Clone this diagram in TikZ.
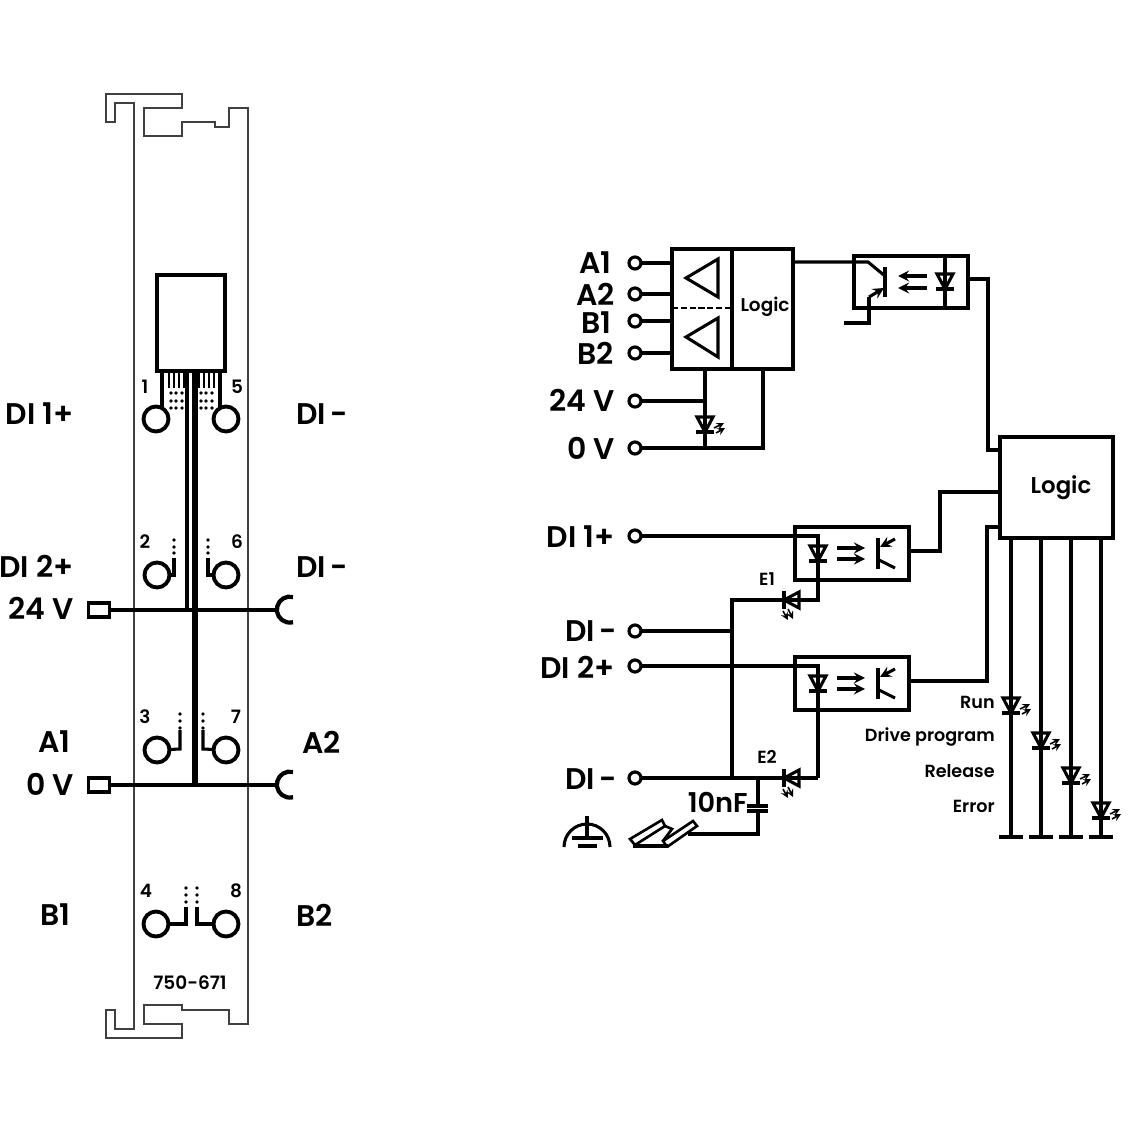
\documentclass[tikz,border=0pt]{standalone}
\usepackage{fontspec}
\setmainfont{Poppins SemiBold}
\usetikzlibrary{arrows, positioning}
\definecolor{panelgray}{gray}{0.25}
\tikzstyle{wire} = [line width=1.75pt, black]
\tikzstyle{rail} = [line width=2.4pt, black]
\tikzstyle{thin_wire} = [line width=1.5pt, black]
\tikzstyle{outline} = [line width=1pt, panelgray]
\tikzstyle{block} = [rectangle, draw=black, line width=1.75pt, fill=none, inner sep=0pt, outer sep=0pt, anchor=north west]
\tikzstyle{pad} = [circle, draw=black, line width=2.2pt, minimum size=0.5cm, inner sep=0pt, outer sep=0pt]
\tikzstyle{plug} = [rectangle, draw=black, line width=2.2pt, minimum width=0.42cm, minimum height=0.28cm, inner sep=0pt, outer sep=0pt]
\tikzstyle{terminal} = [circle, draw=black, line width=1.8pt, minimum size=0.24cm, inner sep=0pt, outer sep=0pt]
\tikzstyle{big_label} = [inner sep=0pt, font=\fontsize{17}{18}\selectfont]
\tikzstyle{pin_label} = [inner sep=0pt, font=\fontsize{10.5}{12}\selectfont]
\tikzstyle{small_label} = [inner sep=0pt, font=\fontsize{10}{12}\selectfont]
\tikzstyle{logic_label} = [inner sep=0pt, font=\fontsize{10.5}{14}\selectfont]
\tikzstyle{light_arrow} = [line width=1.75pt, black, ->, >=stealth]
\tikzstyle{ray} = [line width=0.9pt, black, ->, >=stealth]

% diode with its tip at (#1,#2), pointing down before the rotation #3
\newcommand{\diode}[3]{
    \begin{scope}[shift={(#1,#2)}, rotate=#3]
        \draw [wire, line join=miter] (-8,-15) -- (8,-15) -- (0,0) -- cycle;
        \draw [wire] (-9,0) -- (9,0);
    \end{scope}
}
\newcommand{\led}[3]{
    \diode{#1}{#2}{#3}
    \begin{scope}[shift={(#1,#2)}, rotate=#3]
        \draw [ray] (9,-4) -- (19,-9);
        \draw [ray] (11,1) -- (20,-4);
    \end{scope}
}
% optocoupler inner parts, offset from the first one
\newcommand{\couplerin}[1]{
    \begin{scope}[yshift=#1]
        \diode{818}{561}{0}
        \draw [light_arrow] (837,548) -- (865,548);
        \draw [light_arrow] (837,559) -- (865,559);
        \draw [wire] (878,538) -- (878,569);
        \draw [wire, ->, >=stealth] (895,539) -- (880,547);
        \draw [wire] (879,560) -- (895,568);
    \end{scope}
}

\begin{document}
\begin{tikzpicture}[x=0.02cm, y=-0.02cm]

    \useasboundingbox (0,0) rectangle (1128,1128);

    % module outline
    \draw [outline] (106,122) -- (106,94) -- (182,94) -- (182,108) -- (144,108) -- (144,136) -- (182,136) -- (182,122)
        -- (215,122) -- (215,127) -- (229,127) -- (229,108) -- (248,108) -- (248,1024) -- (229,1024) -- (229,1010)
        -- (182,1010) -- (182,1005) -- (144,1005) -- (144,1024) -- (182,1024) -- (182,1038) -- (106,1038) -- (106,1010)
        -- (115,1010) -- (115,1029) -- (134,1029) -- (134,103) -- (115,103) -- (115,122) -- cycle;

    \node (conn) [block, line width=2.2pt, minimum width=1.36cm, minimum height=1.92cm] at (157,275) {};

    \node (pin1) [pad] at (156,419) {};
    \node (pin5) [pad] at (226,419) {};
    \node (pin2) [pad] at (157,575) {};
    \node (pin6) [pad] at (226,575) {};
    \node (pin3) [pad] at (157,750) {};
    \node (pin7) [pad] at (226,750) {};
    \node (pin4) [pad] at (156,924) {};
    \node (pin8) [pad] at (226,924) {};

    \node (plug24) [plug] at (99,610) {};
    \node (plug0) [plug] at (99,785) {};
    \coordinate (cup24) at (277,610);
    \coordinate (cup0) at (277,785);
    \coordinate (bus24) at (187,610);
    \coordinate (bus0) at (195,785);

    \draw [rail] (plug24) -- (cup24);
    \draw [rail] (plug0) -- (cup0);
    \draw [rail] (293,597) arc [start angle=76, end angle=284, radius=0.26cm];
    \draw [rail] (293,772) arc [start angle=76, end angle=284, radius=0.26cm];
    \draw [rail] (bus24 |- conn.south) -- (bus24);
    \draw [line width=3pt] (bus0 |- conn.south) -- (bus0);

    \draw [rail] (pin1.60 |- conn.south) -- (pin1.60);
    \draw [rail] (pin5.120 |- conn.south) -- (pin5.120);
    \foreach \x in {169,174,179,184,199,204,209,214} {
        \draw [thin_wire] (\x,370) -- (\x,388);
    }
    \foreach \x in {171,176,182,201,206,212} {
        \foreach \y in {393,401,408} {
            \fill (\x,\y) circle (1.1pt);
        }
    }

    \draw [wire] (174,558) -- (174,575) -- (pin2);
    \draw [wire] (208,558) -- (208,575) -- (pin6);
    \draw [wire] (180,730) -- (180,749) -- (pin3);
    \draw [wire] (203,730) -- (203,749) -- (pin7);
    \draw [wire] (186,907) -- (186,924) -- (pin4);
    \draw [wire] (197,907) -- (197,924) -- (pin8);
    \foreach \x/\a/\b/\c in {174/540/547/553, 208/540/547/553, 180/714/721/728, 203/714/721/728, 186/888/895/902, 197/888/895/902} {
        \fill (\x,\a) circle (1.1pt);
        \fill (\x,\b) circle (1.1pt);
        \fill (\x,\c) circle (1.1pt);
    }

    \node (num1) [pin_label] at (145,387) {1};
    \node (num5) [pin_label] at (237,387) {5};
    \node (num2) [pin_label] at (145,542) {2};
    \node (num6) [pin_label] at (237,542) {6};
    \node (num3) [pin_label] at (145,717) {3};
    \node (num7) [pin_label] at (236,717) {7};
    \node (num4) [pin_label] at (146,891) {4};
    \node (num8) [pin_label] at (236,891) {8};
    \node (partno) [pin_label] at (190,983) {750-671};

    \node (lbl_di1) [big_label, anchor=east] at (74,414) {DI 1+};
    \node (lbl_di2) [big_label, anchor=east] at (74,566) {DI 2+};
    \node (lbl_24) [big_label, anchor=east] at (74,608) {24 V};
    \node (lbl_a1) [big_label, anchor=east] at (71,742) {A1};
    \node (lbl_0) [big_label, anchor=east] at (74,784) {0 V};
    \node (lbl_b1) [big_label, anchor=east] at (71,915) {B1};
    \node (lbl_dia) [big_label, anchor=west] at (296,414) {DI{\kern-1.5pt} -};
    \node (lbl_dib) [big_label, anchor=west] at (296,567) {DI{\kern-1.5pt} -};
    \node (lbl_a2) [big_label, anchor=west] at (302,742) {A2};
    \node (lbl_b2) [big_label, anchor=west] at (296,915) {B2};

    % wiring diagram, upper part
    \node (amp) [block, minimum width=2.42cm, minimum height=2.40cm] at (672,249) {};
    \node (logic1) [block, minimum width=1.22cm, minimum height=2.40cm] at (732,249) {};
    \node (opto) [block, minimum width=2.28cm, minimum height=1.04cm] at (854,256) {};
    \node (logic2) [block, minimum width=2.26cm, minimum height=2.02cm] at (1000,437) {};
    \node (lbl_logic1) [logic_label] at (765,307) {Logic};
    \node (lbl_logic2) [logic_label, font=\fontsize{13}{16}\selectfont] at (1061,488) {Logic};

    \node (ta1) [terminal] at (635,263) {};
    \node (ta2) [terminal] at (635,294) {};
    \node (tb1) [terminal] at (635,321) {};
    \node (tb2) [terminal] at (635,353) {};
    \node (t24) [terminal] at (635,401) {};
    \node (t0) [terminal] at (635,448) {};

    \draw [wire] (ta1) -- (ta1 -| amp.west);
    \draw [wire] (ta2) -- (ta2 -| amp.west);
    \draw [wire] (tb1) -- (tb1 -| amp.west);
    \draw [wire] (tb2) -- (tb2 -| amp.west);
    \draw [wire, line width=1.4pt, dashed, dash pattern=on 3.5pt off 1.5pt] (amp.west |- 0,308) -- (logic1.west |- 0,308);

    \draw [wire] (686,278) -- (718,259) -- (718,297) -- cycle;
    \draw [wire] (686,337) -- (718,318) -- (718,357) -- cycle;

    \coordinate (power) at (705,448);
    \coordinate (ground) at (763,448);
    \draw [wire] (t24) -- (t24 -| power);
    \draw [wire] (power |- amp.south) -- (power);
    \draw [wire] (t0) -- (ground) -- (ground |- amp.south);
    \led{705}{432}{0}

    \coordinate (collector) at (885,276);
    \coordinate (sink) at (844,323);
    \draw [wire] (logic1.east |- 0,262) -- (868,262) -- (collector);
    \draw [wire] (885,267) -- (885,297);
    \draw [wire, ->, >=stealth] (869,297) -- (884,288);
    \draw [wire] (869,297) -- (869,323) -- (sink);
    \draw [light_arrow] (927,276) -- (898,276);
    \draw [light_arrow] (927,288) -- (898,288);
    \draw [wire] (opto.north -| 945,0) -- (opto.south -| 945,0);
    \diode{945}{289}{0}

    \draw [wire] (opto.east |- 0,279) -- (988,279) -- (988,450) -- (logic2.west |- 0,450);

    % wiring diagram, lower part
    \node (opto1) [block, minimum width=2.28cm, minimum height=1.06cm] at (795,527) {};
    \node (opto2) [block, minimum width=2.28cm, minimum height=1.06cm] at (795,657) {};

    \node (tdi1) [terminal] at (635,536) {};
    \node (tdia) [terminal] at (635,631) {};
    \node (tdi2) [terminal] at (635,666) {};
    \node (tdib) [terminal] at (635,778) {};

    \coordinate (common) at (732,778);
    \coordinate (ret1) at (818,600);
    \coordinate (ret2) at (818,778);

    \draw [wire] (tdi1) -- (tdi1 -| ret1) -- (ret1) -- (common |- ret1) -- (common);
    \draw [wire] (tdia) -- (tdia -| common);
    \draw [wire] (tdi2) -- (tdi2 -| ret2) -- (ret2);
    \draw [wire] (tdib) -- (ret2);

    \couplerin{0cm}
    \couplerin{-2.6cm}
    \led{784}{600}{-90}
    \led{784}{778}{-90}

    \draw [wire] (opto1.east |- 0,551) -- (940,551) -- (940,492) -- (logic2.west |- 0,492);
    \draw [wire] (opto2.east |- 0,681) -- (987,681) -- (987,527) -- (logic2.west |- 0,527);

    % capacitor to the mounting rail
    \coordinate (cap) at (758,778);
    \coordinate (railend) at (688,834);
    \draw [wire] (cap) -- (758,806);
    \draw [wire] (747,806) -- (768,806);
    \draw [wire] (747,811) -- (768,811);
    \draw [wire] (758,811) -- (758,834) -- (railend);

    \begin{scope}
        \clip (550,800) rectangle (720,847.5);
        \draw [wire] (610,847) arc [start angle=0, end angle=180, radius=0.46cm];
        \draw [wire] (587,816) -- (587,838);
        \draw [wire] (572,838) -- (603,838);
        \draw [wire] (578,846) -- (597,846);
        \draw [line width=1.5pt, fill=white] (630,839) -- (662,820) -- (665,826) -- (635,845) -- cycle;
        \draw [line width=1.5pt] (665,826) -- (672,829) -- (663,841);
        \draw [line width=1.5pt, fill=white] (663,841) -- (693,821) -- (697,826) -- (667,847) -- cycle;
        \draw [rail] (633,846) -- (668,846);
    \end{scope}

    \node (lbl_e1) [small_label] at (767,579) {E1};
    \node (lbl_e2) [small_label] at (767,757) {E2};
    \node (lbl_cap) [big_label, anchor=east, font=\fontsize{15.5}{16}\selectfont] at (748,802) {10nF};

    \node (lbl2_a1) [big_label, anchor=east] at (612,263) {A1};
    \node (lbl2_a2) [big_label, anchor=east] at (615,294) {A2};
    \node (lbl2_b1) [big_label, anchor=east] at (612,323) {B1};
    \node (lbl2_b2) [big_label, anchor=east] at (614,353) {B2};
    \node (lbl2_24) [big_label, anchor=east] at (615,400) {24 V};
    \node (lbl2_0) [big_label, anchor=east] at (615,448) {0 V};
    \node (lbl2_di1) [big_label, anchor=east] at (615,537) {DI 1+};
    \node (lbl2_dia) [big_label, anchor=east] at (617,631) {DI{\kern-1.5pt} -};
    \node (lbl2_di2) [big_label, anchor=east] at (615,667) {DI 2+};
    \node (lbl2_dib) [big_label, anchor=east] at (617,779) {DI{\kern-1.5pt} -};

    % status lines below the logic block
    \foreach \x/\y in {1011/713, 1041/748, 1071/783, 1101/818} {
        \draw [wire] (\x,538) -- (\x,837);
        \draw [rail] (\x-12,837) -- (\x+12,837);
        \led{\x}{\y}{0}
    }

    \node (lbl_run) [small_label, anchor=east] at (995,702) {Run};
    \node (lbl_drive) [small_label, anchor=east] at (995,737) {Drive program};
    \node (lbl_release) [small_label, anchor=east] at (995,771) {Release};
    \node (lbl_error) [small_label, anchor=east] at (995,806) {Error};

\end{tikzpicture}
\end{document}
